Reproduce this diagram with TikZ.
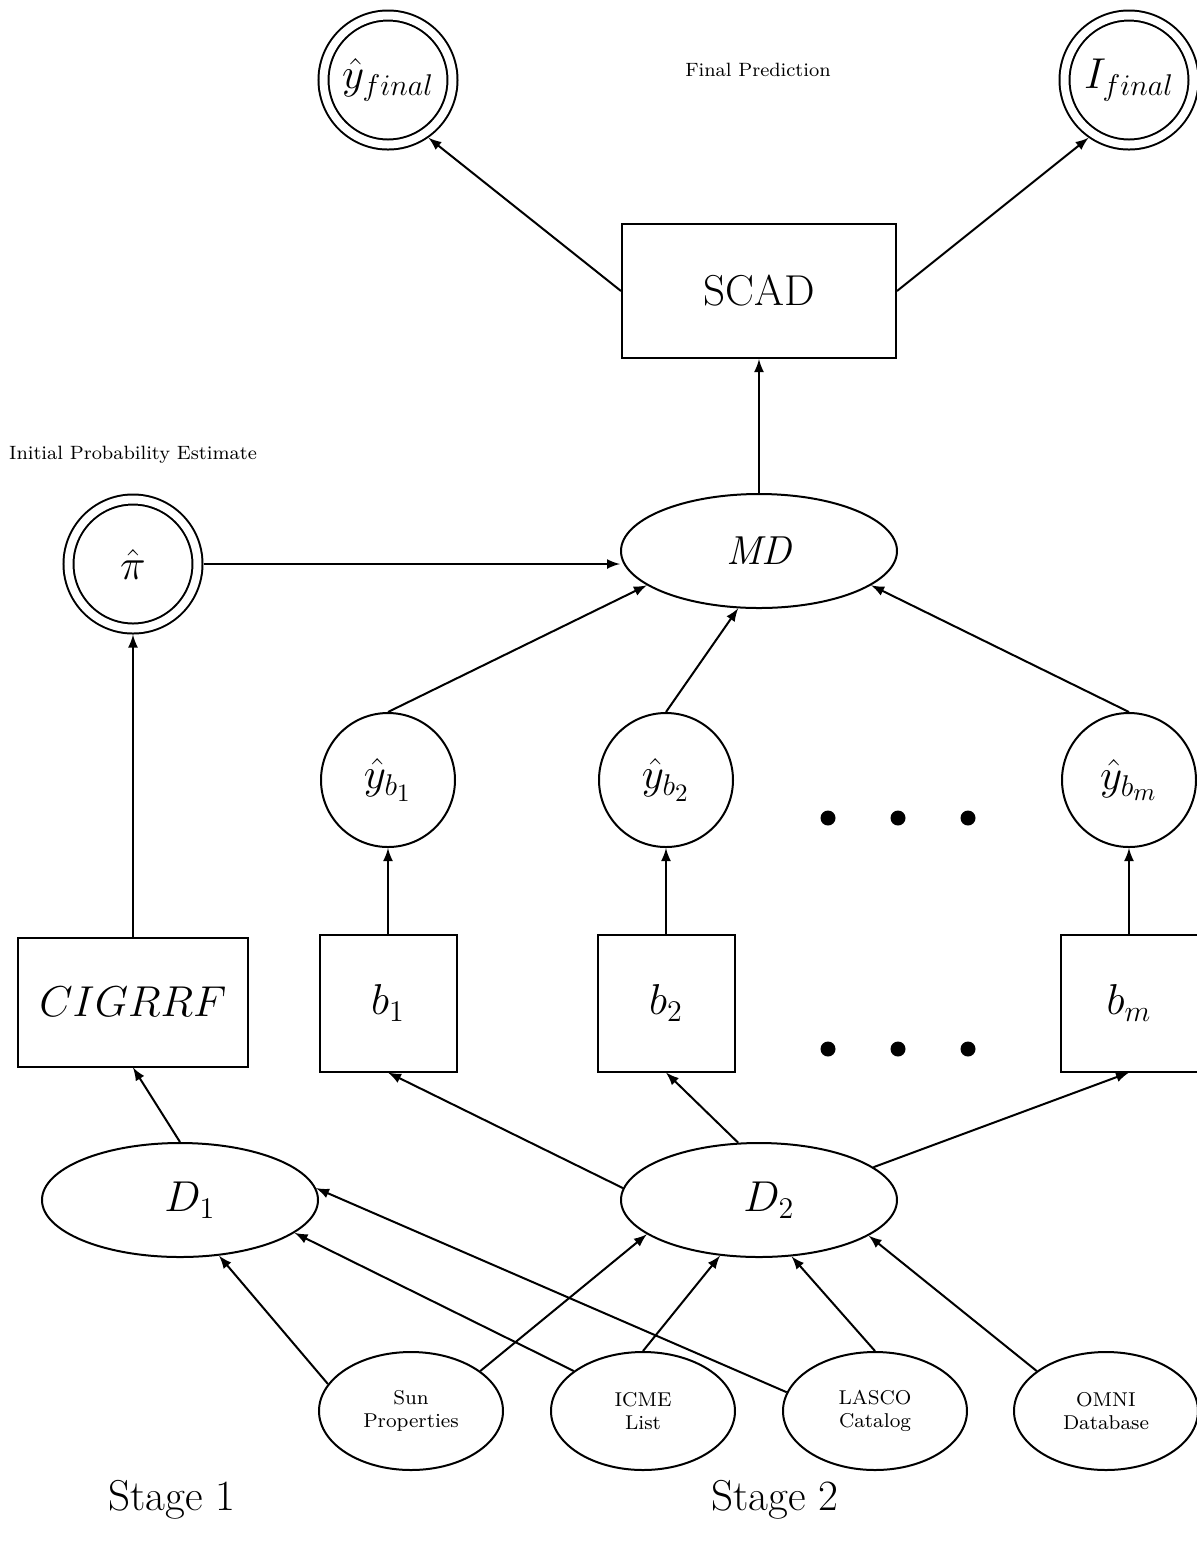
\documentclass[tikz,border=0pt]{standalone}
\usepackage{amsmath}
\usepackage{amssymb}
\usepackage{tikz}
\usetikzlibrary{positioning,shapes.geometric}

\begin{document}
\begin{tikzpicture}[>=latex, thick, x=0.4pt, y=-0.4pt,
  modelbox/.style={draw, rectangle, inner sep=0pt, font=\LARGE},
  estnode/.style={draw, circle, inner sep=0pt, minimum size=53.6pt, font=\LARGE},
  outnode/.style={draw, circle, double, double distance=3.2pt, outer sep=2.4pt, inner sep=0pt, minimum size=51.6pt, font=\LARGE},
  setnode/.style={draw, ellipse, inner sep=0pt, minimum width=110.4pt, minimum height=45.6pt, font=\LARGE},
  srcnode/.style={draw, ellipse, inner sep=0pt, minimum width=73.6pt, minimum height=47.2pt, align=center, font=\footnotesize}]
 \useasboundingbox (0,0) rectangle (1197,1542);
 % Top level: final outputs
 \node[outnode] (yfinal) at (388,80) {$\hat{y}_{final}$};
 \node[outnode] (Ifinal) at (1129,80) {$I_{final}$};
 \node[font=\fontsize{7.7}{9}\selectfont] (FinalLbl) at (758,70) {Final Prediction};
 \node[modelbox, minimum width=109.6pt, minimum height=53.6pt] (SCAD) at (759,291) {SCAD};
 % Stage 1 estimate and meta data set
 \node[font=\fontsize{7.7}{9}\selectfont] (InitLbl) at (133,455) {Initial Probability Estimate};
 \node[outnode] (pihat) at (133,564) {$\hat{\pi}$};
 \node[setnode, font=\fontsize{16.2}{19}\selectfont\itshape] (MD) at (759,551) {MD};
 % Base learner predictions
 \node[estnode] (yb1) at (388,780) {$\hat{y}_{b_1}$};
 \node[estnode] (yb2) at (666,780) {$\hat{y}_{b_2}$};
 \node[estnode] (ybm) at (1129,780) {$\hat{y}_{b_m}$};
 \fill (828,818) circle (3pt);
 \fill (898,818) circle (3pt);
 \fill (968,818) circle (3pt);
 % Models
 \node[modelbox, minimum width=91.6pt, minimum height=51.6pt] (CIG) at (133,1002) {$CIGRRF$};
 \node[modelbox, minimum width=54.8pt, minimum height=54.8pt] (b1) at (388,1003) {$b_1$};
 \node[modelbox, minimum width=54.8pt, minimum height=54.8pt] (b2) at (666,1003) {$b_2$};
 \node[modelbox, minimum width=54.8pt, minimum height=54.8pt] (bm) at (1129,1003) {$b_m$};
 \fill (828,1049) circle (3pt);
 \fill (898,1049) circle (3pt);
 \fill (968,1049) circle (3pt);
 % Data sets and sources
 \node[setnode] (D1) at (180,1200) {\hspace{8pt}$D_1$};
 \node[setnode] (D2) at (759,1200) {\hspace{8pt}$D_2$};
 \node[srcnode] (Sun) at (411,1411) {Sun\\Properties};
 \node[srcnode] (ICME) at (643,1411) {ICME\\List};
 \node[srcnode] (LASCO) at (875,1411) {LASCO\\Catalog};
 \node[srcnode] (OMNI) at (1106,1411) {OMNI\\Database};
 \node[font=\LARGE] (Stage1) at (172,1500) {Stage 1};
 \node[font=\LARGE] (Stage2) at (775,1500) {Stage 2};
 % Draw arrows
 \draw[->] (SCAD.west) -- (yfinal.305);
 \draw[->] (SCAD.east) -- (Ifinal.235);
 \draw[->] (MD) -- (SCAD);
 \draw[->] (pihat) -- (pihat -| MD.west);
 \draw[->] (yb1.north) -- (MD.197);
 \draw[->] (yb2.north) -- (MD.250);
 \draw[->] (ybm.north) -- (MD.343);
 \draw[->] (CIG) -- (pihat);
 \draw[->] (b1) -- (yb1);
 \draw[->] (b2) -- (yb2);
 \draw[->] (bm) -- (ybm);
 \draw[->] (D1.north) -- (CIG.south);
 \draw[->] (D2.175) -- (b1.south);
 \draw[->] (D2.110) -- (b2.south);
 \draw[->] (D2.16) -- (bm.south);
 \draw[->] (Sun.162) -- (D1.305);
 \draw[->] (Sun.30) -- (D2.197);
 \draw[->] (ICME.150) -- (D1.344);
 \draw[->] (ICME.north) -- (D2.235);
 \draw[->] (LASCO.168) -- (D1.5);
 \draw[->] (LASCO.north) -- (D2.300);
 \draw[->] (OMNI.150) -- (D2.342);
\end{tikzpicture}
\end{document}
